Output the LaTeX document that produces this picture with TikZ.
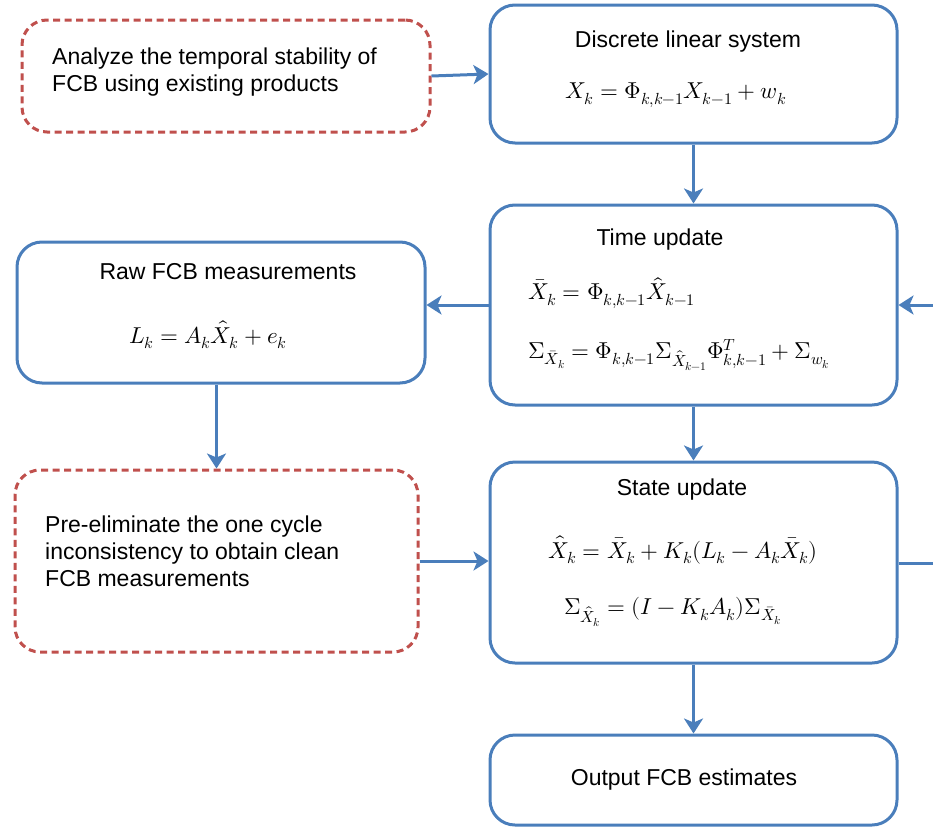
\documentclass[tikz,border=0pt]{standalone}
\usepackage{fontspec}
\usepackage{unicode-math}
\setmainfont{Liberation Sans}
\setmathfont{Latin Modern Math}
\usetikzlibrary{arrows.meta}
\definecolor{bl}{RGB}{74,126,187}
\definecolor{rd}{RGB}{192,80,77}
\tikzset{
  box/.style={draw=bl, line width=3pt, rounded corners=25pt, fill=white, inner sep=0pt},
  dbox/.style={draw=rd, line width=3pt, dash pattern=on 7pt off 4.5pt, rounded corners=25pt, fill=white, inner sep=0pt},
  arr/.style={draw=bl, line width=3pt, -{Stealth[length=15pt,width=19pt,inset=4pt]}},
  lin/.style={draw=bl, line width=3pt},
  txt/.style={font=\fontsize{23}{27}\selectfont, inner sep=0pt, text=black},
}
\begin{document}
\begin{tikzpicture}[x=1pt,y=-1pt]
\useasboundingbox (0,0) rectangle (933,827);
% boxes
\node[dbox, minimum width=408pt, minimum height=112pt] (A) at (226,76) {};
\node[box, minimum width=407pt, minimum height=138pt] (B) at (693.5,74) {};
\node[box, minimum width=407pt, minimum height=200pt] (C) at (693.5,305) {};
\node[box, minimum width=408pt, minimum height=141pt] (R) at (221,312.5) {};
\node[dbox, minimum width=403pt, minimum height=182pt] (P) at (216.5,561) {};
\node[box, minimum width=407pt, minimum height=201pt] (S) at (693.5,562.5) {};
\node[box, minimum width=407pt, minimum height=90pt] (O) at (693.5,780) {};
% texts
\node[txt, anchor=west, align=left] (At) at (52,72) {Analyze the temporal stability of\\FCB using existing products};
\node[txt] (Bt) at (688,42) {Discrete linear system};
\node[txt] (Bf) at (676,95) {$X_k=\Phi_{k,k-1}X_{k-1}+w_k$};
\node[txt] (Ct) at (660,240) {Time update};
\node[txt, anchor=west] (Cf1) at (528,293) {$\bar{X}_k=\Phi_{k,k-1}\hat{X}_{k-1}$};
\node[txt, anchor=west] (Cf2) at (528,355) {$\Sigma_{\bar{X}_k}=\Phi_{k,k-1}\Sigma_{\hat{X}_{k-1}}\Phi^{T}_{k,k-1}+\Sigma_{w_k}$};
\node[txt] (Rt) at (228,272) {Raw FCB measurements};
\node[txt] (Rf) at (208,335) {$L_k=A_k\hat{X}_k+e_k$};
\node[txt, anchor=west, align=left] (Pt) at (45,551) {Pre-eliminate the one cycle\\inconsistency to obtain clean\\FCB measurements};
\node[txt] (St) at (682,490) {State update};
\node[txt] (Sf1) at (683,550) {$\hat{X}_k=\bar{X}_k+K_k(L_k-A_k\bar{X}_k)$};
\node[txt] (Sf2) at (673,612) {$\Sigma_{\hat{X}_k}=(I-K_kA_k)\Sigma_{\bar{X}_k}$};
\node[txt] (Ot) at (684,780) {Output FCB estimates};
% connectors
\coordinate (rin) at (945,305);
\coordinate (rout) at (945,563);
\draw[arr] (A.east) -- (B.west);
\draw[arr] (B.south) -- (C.north);
\draw[arr] (C.west) -- (C.west -| R.east);
\draw[arr] (P.north |- R.south) -- (P.north);
\draw[arr] (P.east) -- (P.east -| S.west);
\draw[arr] (C.south) -- (S.north);
\draw[arr] (S.south) -- (O.north);
\draw[arr] (rin) -- (rin -| C.east);
\draw[lin] (S.east |- rout) -- (rout);
\end{tikzpicture}
\end{document}
